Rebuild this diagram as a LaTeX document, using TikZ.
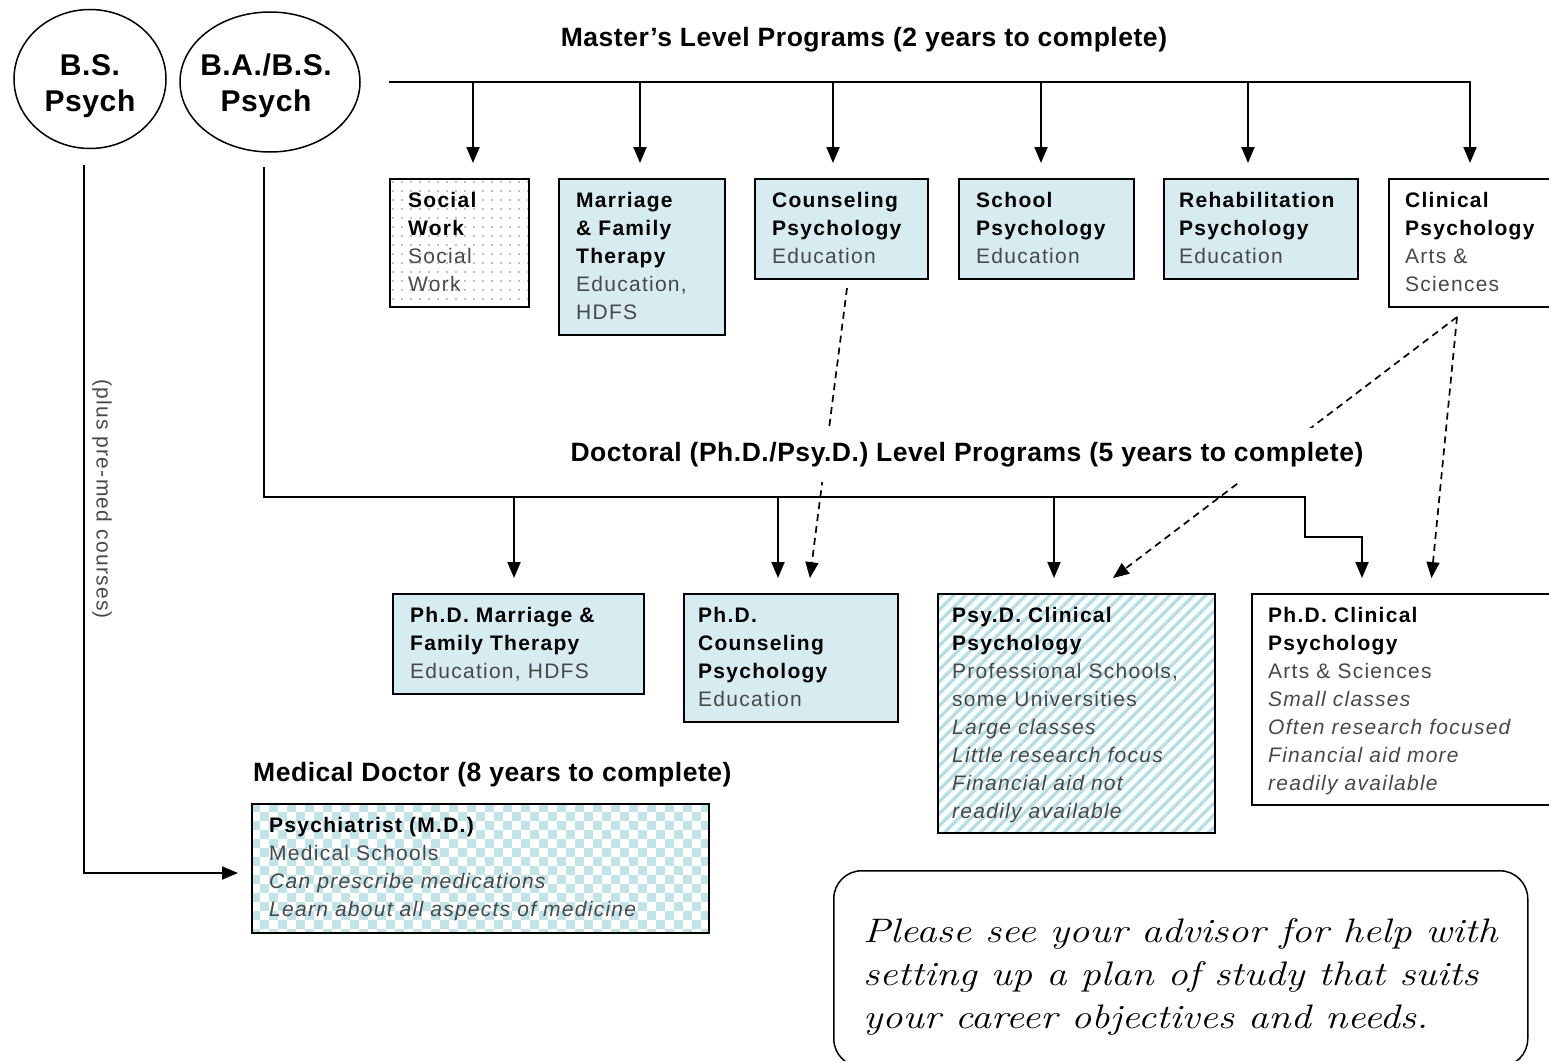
\documentclass[tikz,border=0pt]{standalone}
\usepackage{fontspec}
\usepackage{graphicx}
\usetikzlibrary{arrows.meta,shapes.geometric}
\newfontfamily\bxf{Liberation Sans}[LetterSpace=6]
\newfontfamily\ttlf{Liberation Sans}[LetterSpace=2]
\definecolor{boxblue}{RGB}{214,236,240}
\definecolor{stripeblue}{RGB}{180,223,229}
\definecolor{checkblue}{RGB}{192,228,232}
\definecolor{txtgray}{RGB}{72,72,72}
\newcommand{\bhd}[1]{\textcolor{black}{\textbf{#1}}}
\newcommand{\boxlines}[1]{\begin{tabular}[t]{@{}l@{}}#1\end{tabular}}
\tikzset{
  pbox/.style={draw=black, line width=2pt, anchor=north west, inner sep=0pt},
  btxt/.style={anchor=base west, inner sep=0pt, text=txtgray,
    font=\bxf\fontsize{21pt}{28pt}\selectfont},
  arr/.style={line width=2pt, -{Triangle[width=13pt,length=16pt]}},
  darr/.style={line width=1.7pt, dash pattern=on 7pt off 5pt, -{Triangle[width=13pt,length=16pt]}},
  ttl/.style={font=\ttlf\bfseries\fontsize{26.5pt}{30pt}\selectfont, inner sep=0pt},
  oval/.style={ellipse, draw=black, line width=1.5pt, inner sep=0pt},
  ovaltxt/.style={align=center, inner sep=0pt, font=\ttlf\bfseries\fontsize{30pt}{36pt}\selectfont},
}
\begin{document}
\begin{tikzpicture}[x=1pt,y=-1pt]
\useasboundingbox (0,0) rectangle (1549,1060);
\clip (0,0) rectangle (1549,1060);

% ---------- patterns ----------
% dots: social work
\begin{scope}
  \clip (389,178) rectangle (528,306);
  \foreach \i in {0,...,15}{
    \foreach \j in {0,...,14}{
      \fill[gray] (393+\i*9, 182+\j*9) circle (0.9pt);
    }
  }
\end{scope}
% stripes: Psy.D.
\begin{scope}
  \clip (937,593) rectangle (1214,832);
  \foreach \k in {0,...,46}{
    \draw[stripeblue, line width=3.4pt] (680+\k*12, 845) -- (935+\k*12, 590);
  }
\end{scope}
% checkerboard: M.D.
\begin{scope}
  \clip (251,803) rectangle (708,932);
  \foreach \i in {0,...,50}{
    \foreach \j in {0,...,7}{
      \fill[checkblue] (251+\i*9, {803+(2*\j+mod(\i,2))*9}) rectangle ++(9,9);
    }
  }
\end{scope}

% ---------- origin ovals ----------
\node[oval, minimum width=152pt, minimum height=139pt] (bs) at (90,79) {};
\node[oval, minimum width=180pt, minimum height=140pt] (babs) at (270,82) {};
\node[ovaltxt] (bst) at (90,86) {B.S.\\Psych};
\node[ovaltxt] (babst) at (266,86) {B.A./B.S.\\Psych};

% ---------- master's boxes ----------
\node[pbox, minimum width=139pt, minimum height=128pt] (sw) at (389,178) {};
\node[pbox, fill=boxblue, minimum width=166pt, minimum height=156pt] (mft) at (558,178) {};
\node[pbox, fill=boxblue, minimum width=173pt, minimum height=100pt] (cp) at (754,178) {};
\node[pbox, fill=boxblue, minimum width=175pt, minimum height=100pt] (sp) at (958,178) {};
\node[pbox, fill=boxblue, minimum width=194pt, minimum height=100pt] (rp) at (1163,178) {};
\node[pbox, fill=white, minimum width=180pt, minimum height=128pt] (clin) at (1388,178) {};

\node[btxt] (swt) at (408,207) {\boxlines{\bhd{Social}\\\bhd{Work}\\Social\\Work}};
\node[btxt] (mftt) at (576,207) {\boxlines{\bhd{Marriage}\\\bhd{\& Family}\\\bhd{Therapy}\\Education,\\HDFS}};
\node[btxt] (cpt) at (772,207) {\boxlines{\bhd{Counseling}\\\bhd{Psychology}\\Education}};
\node[btxt] (spt) at (976,207) {\boxlines{\bhd{School}\\\bhd{Psychology}\\Education}};
\node[btxt] (rpt) at (1179,207) {\boxlines{\bhd{Rehabilitation}\\\bhd{Psychology}\\Education}};
\node[btxt] (clint) at (1405,207) {\boxlines{\bhd{Clinical}\\\bhd{Psychology}\\Arts \&\\Sciences}};

% ---------- doctoral boxes ----------
\node[pbox, fill=boxblue, minimum width=251pt, minimum height=100pt] (pmft) at (392,593) {};
\node[pbox, fill=boxblue, minimum width=214pt, minimum height=128pt] (pcp) at (683,593) {};
\node[pbox, minimum width=277pt, minimum height=239pt] (psyd) at (937,593) {};
\node[pbox, fill=white, minimum width=310pt, minimum height=211pt] (pclin) at (1251,593) {};
\node[pbox, minimum width=457pt, minimum height=129pt] (md) at (251,803) {};

\node[btxt] (pmftt) at (410,622) {\boxlines{\bhd{Ph.D. Marriage \&}\\\bhd{Family Therapy}\\Education, HDFS}};
\node[btxt] (pcpt) at (698,622) {\boxlines{\bhd{Ph.D.}\\\bhd{Counseling}\\\bhd{Psychology}\\Education}};
\node[btxt] (psydt) at (952,622) {\boxlines{\bhd{Psy.D. Clinical}\\\bhd{Psychology}\\Professional Schools,\\some Universities\\\textit{Large classes}\\\textit{Little research focus}\\\textit{Financial aid not}\\\textit{readily available}}};
\node[btxt] (pclint) at (1268,622) {\boxlines{\bhd{Ph.D. Clinical}\\\bhd{Psychology}\\Arts \& Sciences\\\textit{Small classes}\\\textit{Often research focused}\\\textit{Financial aid more}\\\textit{readily available}}};
\node[btxt] (mdt) at (269,832) {\boxlines{\bhd{Psychiatrist (M.D.)}\\Medical Schools\\\textit{Can prescribe medications}\\\textit{Learn about all aspects of medicine}}};

% ---------- titles ----------
\node[ttl] (mtitle) at (864,40) {Master’s Level Programs (2 years to complete)};
\node[ttl, anchor=west] (mdtitle) at (253,775) {Medical Doctor (8 years to complete)};

% ---------- master connectors ----------
\coordinate (tl) at (389,82);
\coordinate (tr) at (1470,82);
\coordinate (a1) at (473,82);
\coordinate (a2) at (640,82);
\coordinate (a3) at (833,82);
\coordinate (a4) at (1041,82);
\coordinate (a5) at (1248,82);
\draw[arr, shorten >=15pt] (tl) -- (tr) -- (tr |- clin.north);
\draw[arr, shorten >=15pt] (a1) -- (a1 |- sw.north);
\draw[arr, shorten >=15pt] (a2) -- (a2 |- mft.north);
\draw[arr, shorten >=15pt] (a3) -- (a3 |- cp.north);
\draw[arr, shorten >=15pt] (a4) -- (a4 |- sp.north);
\draw[arr, shorten >=15pt] (a5) -- (a5 |- rp.north);

% ---------- doctoral connectors ----------
\coordinate (b0) at (264,167);
\coordinate (b1) at (264,497);
\coordinate (b2) at (1305,497);
\coordinate (b3) at (1305,537);
\coordinate (b4) at (1362,537);
\coordinate (d1) at (514,497);
\coordinate (d2) at (778,497);
\coordinate (d3) at (1054,497);
\draw[arr, shorten >=15pt] (b0) -- (b1) -- (b2) -- (b3) -- (b4) -- (b4 |- pclin.north);
\draw[arr, shorten >=15pt] (d1) -- (d1 |- pmft.north);
\draw[arr, shorten >=15pt] (d2) -- (d2 |- pcp.north);
\draw[arr, shorten >=15pt] (d3) -- (d3 |- psyd.north);

% ---------- medical connector ----------
\coordinate (c0) at (84,165);
\coordinate (c1) at (84,873);
\draw[arr, shorten >=13pt] (c0) -- (c1) -- (c1 -| md.west);
\node[rotate=-90, inner sep=0pt, text=txtgray, font=\bxf\fontsize{21pt}{24pt}\selectfont] (pm) at (102,499) {(plus pre-med courses)};

% ---------- dashed connectors ----------
\coordinate (e0) at (847,288);
\coordinate (e1) at (808,593);
\coordinate (f0) at (1457,317);
\coordinate (f1) at (1113,578);
\coordinate (f2) at (1430,593);
\draw[darr, shorten >=15pt] (e0) -- (e1);
\draw[darr] (f0) -- (f1);
\draw[darr, shorten >=15pt] (f0) -- (f2);

\node[ttl, fill=white, inner xsep=8pt, minimum height=54pt] (dtitle) at (967,455) {Doctoral (Ph.D./Psy.D.) Level Programs (5 years to complete)};

% ---------- advisor note ----------
\node[draw=black, line width=1.5pt, rounded corners=28pt, anchor=north west, inner sep=0pt,
  minimum width=694pt, minimum height=196pt] (adv) at (833,870) {};
\node[anchor=base west, inner sep=0pt, font=\fontsize{34pt}{43pt}\selectfont\itshape] (advt) at (863,942)
  {\scalebox{1.19}[1]{\boxlines{Please see your advisor for help with\\setting up a plan of study that suits\\your career objectives and needs.}}};
\end{tikzpicture}
\end{document}
